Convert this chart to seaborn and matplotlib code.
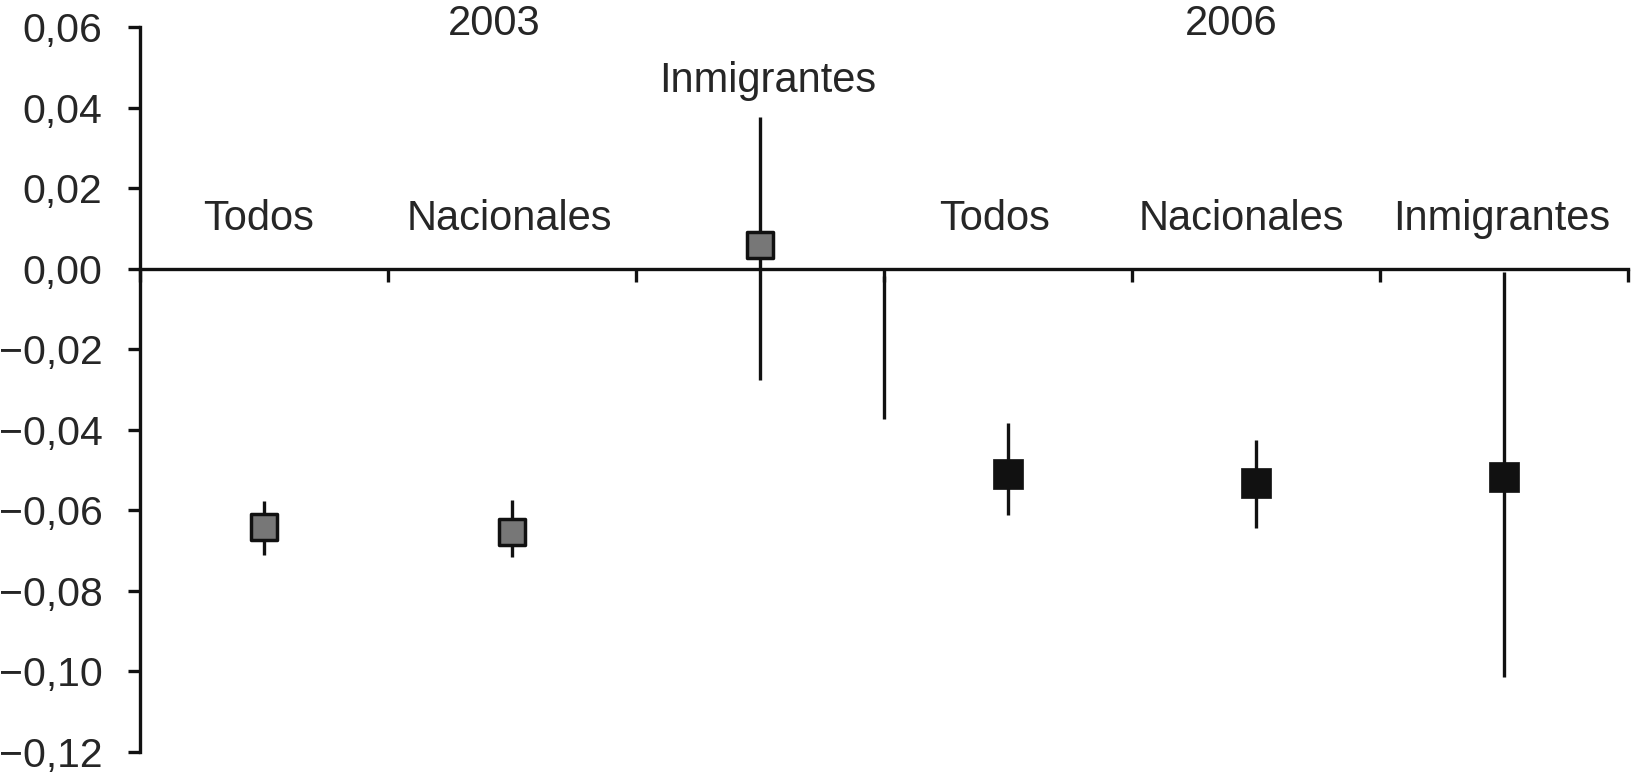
import pandas as pd
import seaborn as sns
import matplotlib.pyplot as plt
from matplotlib.ticker import FuncFormatter, MultipleLocator

# values
groups = ["Todos", "Nacionales", "Inmigrantes", "Todos", "Nacionales", "Inmigrantes"]
years = ["2003", "2003", "2003", "2006", "2006", "2006"]
estimate = [-0.0641, -0.0653, 0.0059, -0.0510, -0.0533, -0.0518]
lower = [-0.0710, -0.0715, -0.0277, -0.0611, -0.0644, -0.1015]
upper = [-0.0577, -0.0574, 0.0376, -0.0384, -0.0426, -0.0008]
label_y = [0.0124, 0.0124, 0.0467, 0.0124, 0.0124, 0.0124]
year_labels = ["2003", "2006"]
separator = (2.5, -0.0017, -0.0372)

# small horizontal nudges for the text labels (category units)
label_nudge = [-0.02, -0.01, 0.03, -0.055, -0.06, -0.01]
year_label_pos = [0.93, 3.9]

df = pd.DataFrame({"group": groups, "year": years, "est": estimate,
                   "lo": lower, "hi": upper, "ly": label_y})
df["pos"] = range(len(df))

sns.set_style("white")
plt.rcParams['font.family'] = ['Liberation Sans', 'DejaVu Sans']

fig = plt.figure(figsize=(16.32, 7.76), dpi=100)
ax = fig.add_axes([140 / 1632, 1 - 752 / 776, 1488 / 1632, 725 / 776])

ink = "#111111"
ax.vlines(df["pos"], df["lo"], df["hi"], color=ink, lw=2.4, zorder=2)
ax.vlines(separator[0], separator[1], separator[2], color=ink, lw=2.4, zorder=2)

styles = {"2003": dict(color="#777777", s=19 ** 2, edgecolor=ink, linewidth=2.5),
          "2006": dict(color=ink, s=22 ** 2, edgecolor=ink, linewidth=0.5)}
for yr, sub in df.groupby("year"):
    sns.scatterplot(data=sub, x="pos", y="est", marker="s", ax=ax, zorder=3,
                    legend=False, **styles[yr])

for (_, r), dx in zip(df.iterrows(), label_nudge):
    ax.text(r["pos"] + dx, r["ly"], r["group"], ha="center", va="center", fontsize=30)
for yl, p in zip(year_labels, year_label_pos):
    ax.text(p, 0.0607, yl, ha="center", va="center", fontsize=30, clip_on=False)

ax.set_xlim(-0.5, 5.5)
ax.set_ylim(-0.12, 0.06)
ax.yaxis.set_major_locator(MultipleLocator(0.02))
ax.yaxis.set_major_formatter(FuncFormatter(
    lambda v, _: f"{v:.2f}".replace(".", ",").replace("-", "\u2212")))
ax.set_xticks([i - 0.5 for i in range(7)])
ax.set_xticklabels([])
ax.set_xlabel("")
ax.set_ylabel("")

for side in ["top", "right"]:
    ax.spines[side].set_visible(False)
ax.spines["bottom"].set_position(("data", 0))
for side in ["left", "bottom"]:
    ax.spines[side].set_linewidth(2.4)
    ax.spines[side].set_color(ink)
ax.tick_params(axis="y", direction="out", length=9, width=2.4, color=ink,
               labelsize=29.5, pad=18, left=True)
ax.tick_params(axis="x", direction="out", length=9, width=2.4, color=ink, bottom=True)

fig.savefig("out.png", dpi=100)
